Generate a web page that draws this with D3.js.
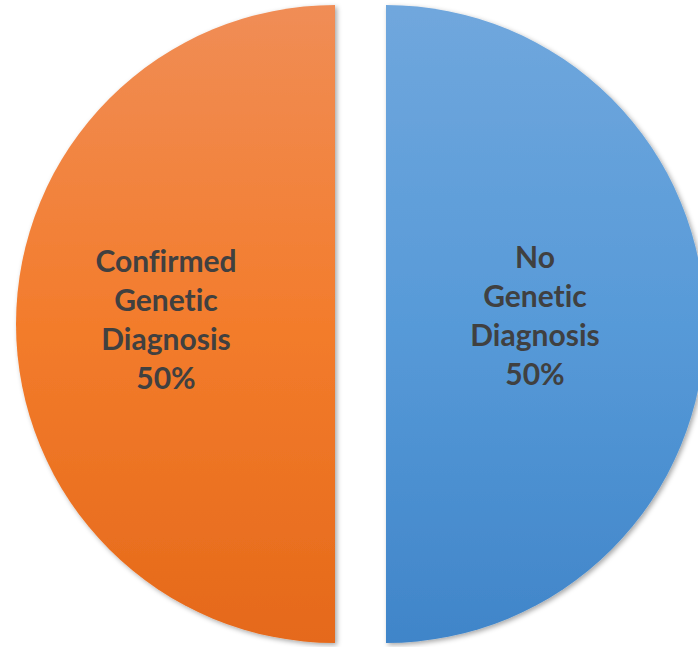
<!DOCTYPE html>
<html>
<head>
<meta charset="utf-8">
<script src="https://cdn.jsdelivr.net/npm/d3@7"></script>
<style>
  body { margin: 0; background: #fff; }
  svg { display: block; }
  text { font-variant-ligatures: none; }
</style>
</head>
<body>
<svg id="chart"></svg>
<script>
const width = 698,
    height = 647;

// chart data
const categories = ["No Genetic Diagnosis", "Confirmed Genetic Diagnosis"];
const values = [50, 50];
const labelLines = [["No", "Genetic", "Diagnosis"], ["Confirmed", "Genetic", "Diagnosis"]];

const cx = 360.5, cy = 324, radius = 319, explode = 25.5;
const gradients = [
    {id: "gBlue", stops: ["#70a7dd", "#579ad8", "#4085c9"]},
    {id: "gOrange", stops: ["#f08d56", "#f37c2c", "#e5691a"]}
];

let svg = d3.select("#chart")
    .attr("width", width)
    .attr("height", height);

let defs = svg.append("defs");
gradients.forEach(g => {
    let lg = defs.append("linearGradient")
        .attr("id", g.id)
        .attr("gradientUnits", "userSpaceOnUse")
        .attr("x1", 0).attr("y1", -radius)
        .attr("x2", 0).attr("y2", radius);
    g.stops.forEach((c, k) => lg.append("stop")
        .attr("offset", (k * 50) + "%")
        .attr("stop-color", c));
});
defs.append("filter")
    .attr("id", "shadow")
    .attr("x", "-10%").attr("y", "-10%")
    .attr("width", "120%").attr("height", "120%")
    .append("feDropShadow")
    .attr("dx", 2).attr("dy", 2)
    .attr("stdDeviation", 2.5)
    .attr("flood-color", "#000")
    .attr("flood-opacity", 0.35);

let pie = d3.pie().sort(null).value(d => d);
let arc = d3.arc().innerRadius(0).outerRadius(radius);
let arcs = pie(values);

let slices = svg.append("g")
    .attr("transform", `translate(${cx},${cy})`)
    .selectAll("g.slice")
    .data(arcs)
    .join("g")
    .classed("slice", true)
    .attr("transform", d => {
        let mid = (d.startAngle + d.endAngle) / 2;
        return `translate(${Math.sin(mid) * explode},${-Math.cos(mid) * explode})`;
    });

slices.append("path")
    .attr("d", arc)
    .attr("fill", (d, i) => `url(#${gradients[i].id})`)
    .attr("filter", "url(#shadow)");

// labels (offsets relative to each slice's own centre)
const labelX = [149, -169], labelTop = [-56, -52], lineH = 39;
slices.append("text")
    .attr("text-anchor", "middle")
    .attr("font-family", "Lato, 'Open Sans', sans-serif")
    .attr("font-weight", "bold")
    .attr("font-size", 30)
    .attr("fill", "#404040")
    .each(function (d, i) {
        let lines = labelLines[i].concat([d3.format(".0%")(d.value / d3.sum(values))]);
        d3.select(this).selectAll("tspan")
            .data(lines)
            .join("tspan")
            .attr("x", labelX[i])
            .attr("y", (t, k) => labelTop[i] + k * lineH)
            .text(t => t);
    });
</script>
</body>
</html>
